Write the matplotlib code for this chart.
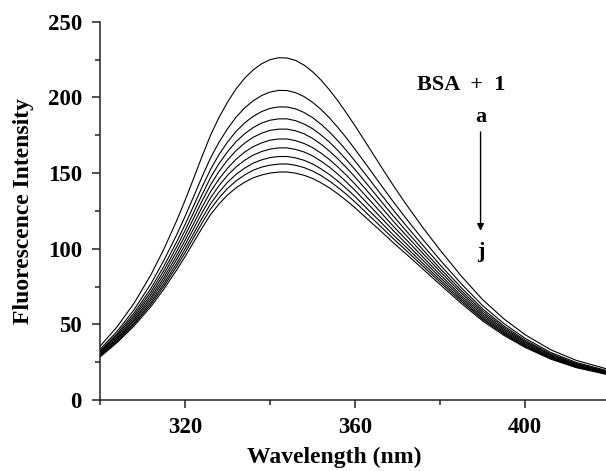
import matplotlib
matplotlib.use("Agg")
import matplotlib.pyplot as plt
from matplotlib.ticker import MultipleLocator, FixedLocator

plt.rcParams['font.family'] = ['Liberation Serif', 'DejaVu Serif']
plt.rcParams['font.weight'] = 'bold'

wavelength = [300, 304, 308, 312, 315, 318, 320, 322, 324, 326, 328, 330, 332, 334, 336, 338, 340, 342, 344, 346,
              348, 350, 352, 354, 356, 358, 360, 363, 366, 369, 372, 376, 380, 385, 390, 395, 400, 406, 412, 419]

curve_a = [35.5, 48.3, 63.9, 82.9, 99.6, 118.3, 131.9, 146.3, 161.0, 175.0, 186.8, 196.9, 205.6, 212.6, 218.1, 222.2, 224.9, 226.2, 226.0, 224.4,
           221.3, 216.9, 211.4, 204.8, 197.5, 189.5, 181.1, 168.0, 154.7, 141.7, 129.3, 113.7, 99.0, 81.8, 66.3, 53.6, 43.1, 33.2, 26.2, 20.7]
curve_b = [33.5, 45.3, 59.6, 76.9, 92.1, 109.0, 121.3, 134.3, 147.5, 160.0, 170.4, 179.3, 186.9, 193.0, 197.7, 201.2, 203.5, 204.6, 204.5, 203.1,
           200.5, 196.7, 192.0, 186.3, 179.9, 173.0, 165.6, 154.1, 142.4, 130.9, 119.9, 105.9, 92.5, 76.7, 62.3, 50.5, 40.7, 31.4, 24.8, 19.6]
curve_c = [32.4, 43.8, 57.5, 73.8, 88.3, 104.3, 115.9, 128.2, 140.7, 152.4, 162.2, 170.5, 177.5, 183.1, 187.4, 190.6, 192.7, 193.7, 193.6, 192.4,
           190.0, 186.6, 182.2, 177.0, 171.1, 164.7, 157.8, 147.1, 136.2, 125.5, 115.2, 102.0, 89.2, 74.1, 60.2, 48.9, 39.5, 30.5, 24.1, 19.1]
curve_d = [31.7, 42.8, 55.9, 71.6, 85.5, 101.0, 112.0, 123.8, 135.7, 147.0, 156.3, 164.1, 170.7, 175.9, 180.0, 183.0, 184.9, 185.8, 185.8, 184.6,
           182.4, 179.3, 175.1, 170.3, 164.7, 158.6, 152.2, 142.0, 131.7, 121.5, 111.8, 99.1, 86.8, 72.2, 58.8, 47.8, 38.6, 29.9, 23.6, 18.7]
curve_e = [31.1, 41.8, 54.5, 69.7, 83.1, 98.0, 108.7, 120.0, 131.5, 142.2, 151.1, 158.6, 164.8, 169.7, 173.6, 176.3, 178.2, 179.0, 179.0, 177.9,
           175.9, 172.9, 169.0, 164.4, 159.2, 153.4, 147.3, 137.6, 127.9, 118.1, 108.8, 96.7, 84.8, 70.6, 57.5, 46.8, 37.9, 29.3, 23.2, 18.4]
curve_f = [30.5, 40.9, 53.2, 67.9, 80.8, 95.2, 105.5, 116.4, 127.4, 137.7, 146.1, 153.2, 159.1, 163.8, 167.4, 169.9, 171.7, 172.5, 172.5, 171.4,
           169.5, 166.8, 163.1, 158.8, 153.8, 148.4, 142.6, 133.4, 124.1, 114.8, 106.0, 94.3, 82.8, 69.0, 56.3, 45.9, 37.1, 28.8, 22.8, 18.1]
curve_g = [29.9, 40.1, 52.1, 66.3, 78.8, 92.7, 102.6, 113.1, 123.7, 133.6, 141.7, 148.5, 154.0, 158.4, 161.8, 164.2, 165.8, 166.6, 166.6, 165.6,
           163.9, 161.3, 157.8, 153.8, 149.1, 143.9, 138.4, 129.6, 120.8, 111.9, 103.4, 92.2, 81.0, 67.6, 55.2, 45.0, 36.5, 28.3, 22.4, 17.8]
curve_h = [29.4, 39.3, 50.9, 64.7, 76.8, 90.2, 99.8, 109.9, 120.1, 129.6, 137.4, 143.9, 149.1, 153.2, 156.5, 158.7, 160.2, 160.9, 160.9, 160.0,
           158.4, 156.0, 152.7, 148.9, 144.5, 139.6, 134.4, 125.9, 117.6, 109.0, 101.0, 90.1, 79.3, 66.3, 54.1, 44.2, 35.8, 27.8, 22.1, 17.5]
curve_i = [28.9, 38.6, 50.0, 63.3, 75.1, 88.1, 97.3, 107.2, 117.0, 126.2, 133.6, 139.8, 144.8, 148.7, 151.8, 153.9, 155.2, 155.9, 156.0, 155.1,
           153.6, 151.3, 148.3, 144.6, 140.4, 135.8, 130.8, 122.7, 114.7, 106.6, 98.8, 88.3, 77.8, 65.1, 53.2, 43.5, 35.3, 27.4, 21.7, 17.3]
curve_j = [28.4, 37.9, 48.9, 61.8, 73.2, 85.8, 94.7, 104.2, 113.7, 122.5, 129.6, 135.5, 140.2, 143.9, 146.8, 148.7, 150.0, 150.6, 150.7, 149.9,
           148.5, 146.4, 143.5, 140.1, 136.1, 131.7, 127.0, 119.3, 111.7, 103.9, 96.5, 86.4, 76.2, 63.8, 52.2, 42.7, 34.7, 27.0, 21.4, 17.0]

curves = [curve_a, curve_b, curve_c, curve_d, curve_e, curve_f, curve_g, curve_h, curve_i, curve_j]

x_major = [320, 360, 400]
x_minor = [300, 340, 380, 420]
y_major = [0, 50, 100, 150, 200, 250]

fig = plt.figure(figsize=(6.06, 4.71), dpi=100)
ax = fig.add_axes([100/606, 1 - 400/471, 506/606, (400 - 21.7)/471])

for c in curves:
    ax.plot(wavelength, c, color='black', lw=0.8, solid_joinstyle='round')

ax.set_xlim(300, 419)
ax.set_ylim(0, 250)
ax.xaxis.set_major_locator(FixedLocator(x_major))
ax.xaxis.set_minor_locator(FixedLocator(x_minor))
ax.yaxis.set_major_locator(FixedLocator(y_major))
ax.yaxis.set_minor_locator(MultipleLocator(25))

for s in ['top', 'right']:
    ax.spines[s].set_visible(False)
for s in ['left', 'bottom']:
    ax.spines[s].set_linewidth(1.1)
    ax.spines[s].set_color('#222222')

ax.tick_params(which='major', direction='out', length=6, width=1.1, labelsize=16.5, color='#222222')
ax.tick_params(which='minor', direction='out', length=3.5, width=1.1, color='#222222')
ax.tick_params(axis='y', which='major', pad=7)
ax.tick_params(axis='x', which='major', pad=6)
for lab in ax.get_xticklabels() + ax.get_yticklabels():
    lab.set_fontweight('bold')

ax.set_xlabel('Wavelength (nm)', fontsize=17, fontweight='bold')
ax.xaxis.set_label_coords(0.462, -0.125)
ax.set_ylabel('Fluorescence Intensity', fontsize=17, fontweight='bold', labelpad=10)

ax.text(384.9, 208, 'BSA  +  1', fontsize=16, fontweight='bold', ha='center', va='center')
ax.text(389.5, 187, 'a', fontsize=16, fontweight='bold', ha='center', va='center')
ax.text(389.5, 97.5, 'j', fontsize=16, fontweight='bold', ha='center', va='center')
ax.annotate('', xy=(389.5, 110), xytext=(389.5, 179),
            arrowprops=dict(arrowstyle='-|>', color='black', lw=1.0, mutation_scale=10))

fig.savefig('out.png', dpi=100)
